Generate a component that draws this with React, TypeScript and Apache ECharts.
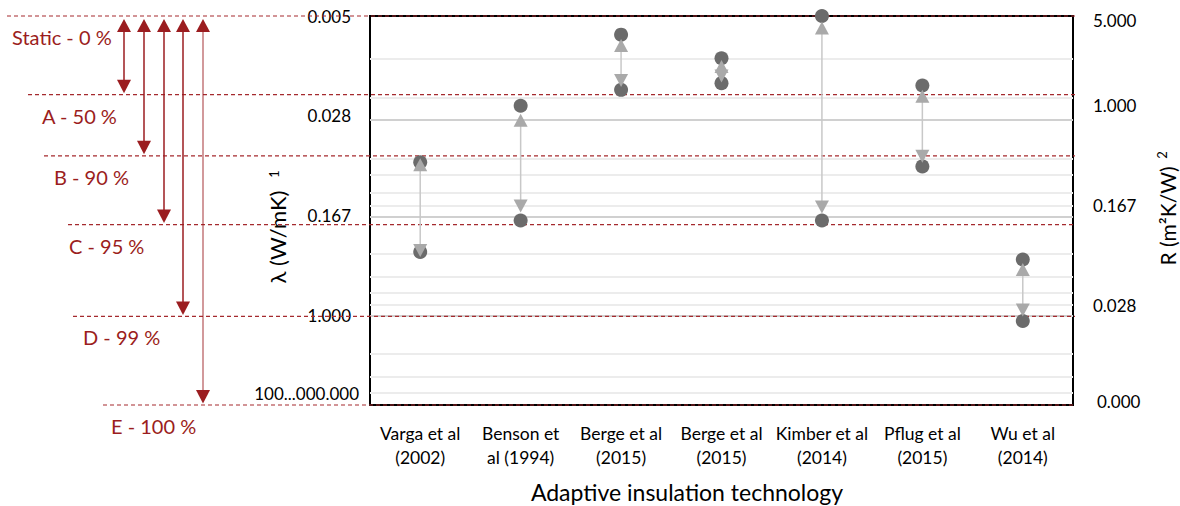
import React, { useEffect, useRef } from "react";
import * as echarts from "echarts";

// ---------- data ----------
const categories = [
  "Varga et al\n(2002)",
  "Benson et\nal (1994)",
  "Berge et al\n(2015)",
  "Berge et al\n(2015)",
  "Kimber et al\n(2014)",
  "Pflug et al\n(2015)",
  "Wu et al\n(2014)",
];

// λ (W/mK): the two measured states (dark circles)
const lambdaLow = [0.064, 0.0232, 0.00647, 0.00988, 0.00463, 0.01614, 0.3666];
const lambdaHigh = [0.32, 0.182, 0.01744, 0.01546, 0.182, 0.0689, 1.107];
// arrow heads (light grey triangles)
const arrowUp = [0.0668, 0.0301, 0.00785, 0.01148, 0.00574, 0.01958, 0.4386];
const arrowDown = [0.312, 0.1406, 0.01476, 0.01357, 0.1431, 0.0574, 0.909];

// axes
const LAMBDA_MIN = 0.00463;
const LAMBDA_MAX = 5;
const R_MIN = 0.00463;
const R_MAX = 5;
const tickValues = [0.00463, 0.0278, 0.1667, 1, 5];
const leftTickLabels = ["0.005", "0.028", "0.167", "1.000", "100...000.000"];
const rightTickLabels = ["0.000", "0.028", "0.167", "1.000", "5.000"];
const majorGridLambda = [1 / 36, 1 / 6, 1];
const minorGridLambda = [
  2 / 216, 3 / 216, 4 / 216, 5 / 216,
  2 / 36, 3 / 36, 4 / 36, 5 / 36,
  2 / 6, 3 / 6, 4 / 6, 5 / 6,
  2, 3, 4,
];

// reduction levels (left annotation)
const levelLabels = ["Static - 0 %", "A - 50 %", "B - 90 %", "C - 95 %", "D - 99 %", "E - 100 %"];
const levelLambda = [0.00463, 0.019, 0.057, 0.196, 1.02, 5];

const FONT = "Lato";
const RED = "#9B1D20";

export default function App() {
  const ref = useRef<HTMLDivElement>(null);
  useEffect(() => {
    const chart = echarts.init(ref.current!, undefined, { renderer: "svg" });
    const log6 = (v: number) => Math.log(v) / Math.log(6);
    const nearest = (v: number) => {
      const e = log6(v);
      let best = -1;
      let bd = 1e9;
      tickValues.forEach((t, i) => {
        const d = Math.abs(log6(t) - e);
        if (d < bd) {
          bd = d;
          best = i;
        }
      });
      return bd < 0.05 ? best : -1;
    };

    const option: any = {
      animation: false,
      grid: {
        left: 370,
        right: 107,
        top: 16,
        bottom: 101,
        show: true,
        borderColor: "#000",
        borderWidth: 2,
        backgroundColor: "transparent",
      },
      xAxis: {
        type: "category",
        data: categories,
        axisLine: { show: false },
        axisTick: { show: false },
        splitLine: { show: false },
        axisLabel: {
          interval: 0,
          color: "#000",
          fontFamily: FONT,
          fontSize: 17.5,
          lineHeight: 24,
          margin: 16,
        },
      },
      yAxis: [
        {
          type: "log",
          logBase: 6,
          inverse: true,
          min: LAMBDA_MIN,
          max: LAMBDA_MAX,
          position: "left",
          axisLine: { show: false },
          axisTick: { show: false },
          splitLine: { show: false },
          axisLabel: {
            margin: 11,
            color: "#000",
            fontFamily: FONT,
            fontSize: 17,
            formatter: (v: number) => {
              const i = nearest(v);
              if (i < 0) return "";
              return i === 4 ? `{lo|${leftTickLabels[i]}}` : `{n|${leftTickLabels[i]}}`;
            },
            rich: {
              n: { padding: [0, 8, 0, 0], fontFamily: FONT, fontSize: 17, color: "#000" },
              lo: { padding: [0, 0, 24, 0], fontFamily: FONT, fontSize: 17, color: "#000" },
            },
          },
        },
        {
          type: "log",
          logBase: 6,
          min: R_MIN,
          max: R_MAX,
          position: "right",
          axisLine: { show: false },
          axisTick: { show: false },
          splitLine: { show: false },
          axisLabel: {
            margin: 20,
            color: "#000",
            fontFamily: FONT,
            fontSize: 17,
            formatter: (v: number) => {
              const i = nearest(v);
              if (i < 0) return "";
              if (i === 0) return `{lo|${rightTickLabels[i]}}`;
              if (i === 4) return `{hi|${rightTickLabels[i]}}`;
              return rightTickLabels[i];
            },
            rich: {
              lo: { padding: [0, 0, 8, 4], fontFamily: FONT, fontSize: 17, color: "#000" },
              hi: { padding: [8, 0, 0, 0], fontFamily: FONT, fontSize: 17, color: "#000" },
            },
          },
        },
      ],
      series: [
        {
          type: "scatter",
          yAxisIndex: 0,
          data: [],
          silent: true,
          markLine: {
            silent: true,
            symbol: "none",
            z: 1,
            animation: false,
            label: { show: false },
            data: [
              ...minorGridLambda.map((v) => ({
                yAxis: v,
                lineStyle: { color: "#ececec", width: 2, type: "solid" },
              })),
              ...majorGridLambda.map((v) => ({
                yAxis: v,
                lineStyle: { color: "#d0d0d0", width: 2, type: "solid" },
              })),
            ],
          },
        },
        {
          type: "scatter",
          yAxisIndex: 0,
          z: 4,
          clip: false,
          symbol: "circle",
          symbolSize: 14,
          itemStyle: { color: "#6b6b6b", opacity: 1 },
          data: lambdaLow.map((v, i) => [i, v]),
        },
        {
          type: "scatter",
          yAxisIndex: 0,
          z: 4,
          clip: false,
          symbol: "circle",
          symbolSize: 14,
          itemStyle: { color: "#6b6b6b", opacity: 1 },
          data: lambdaHigh.map((v, i) => [i, v]),
        },
        {
          type: "custom",
          yAxisIndex: 0,
          z: 5,
          clip: false,
          encode: { x: 0, y: [1, 2] },
          data: arrowUp.map((v, i) => [i, v, arrowDown[i]]),
          renderItem: (_p: any, api: any) => {
            const a = api.coord([api.value(0), api.value(1)]);
            const b = api.coord([api.value(0), api.value(2)]);
            return {
              type: "line",
              shape: { x1: a[0], y1: a[1], x2: b[0], y2: b[1] },
              style: { stroke: "#c8c8c8", lineWidth: 1.5 },
            };
          },
        },
        {
          type: "scatter",
          yAxisIndex: 0,
          z: 6,
          clip: false,
          symbol: "triangle",
          symbolSize: [14, 13],
          itemStyle: { color: "#a9a9a9", opacity: 1 },
          data: arrowUp.map((v, i) => [i, v]),
        },
        {
          type: "scatter",
          yAxisIndex: 0,
          z: 6,
          clip: false,
          symbol: "triangle",
          symbolRotate: 180,
          symbolSize: [14, 13],
          itemStyle: { color: "#a9a9a9", opacity: 1 },
          data: arrowDown.map((v, i) => [i, v]),
        },
      ],
    };
    chart.setOption(option);

    // ---------- annotations from the axis scale ----------
    const yOf = (v: number) => chart.convertToPixel({ yAxisIndex: 0 } as any, v) as number;
    const levelY = levelLambda.map(yOf);
    const lineStartX = [7, 28, 44, 68, 73, 103];
    const labelX = [12, 42, 54, 69, 83, 111];
    const arrowX = [124, 144, 164, 183, 203];
    const lineEndX = 1075;
    const g: any[] = [];
    levelY.forEach((y, i) => {
      g.push({
        type: "line",
        z: 3,
        shape: { x1: lineStartX[i], y1: y, x2: lineEndX, y2: y },
        style: { stroke: "#A52A2E", lineWidth: 1.2, lineDash: [4, 3] },
      });
      g.push({
        type: "text",
        z: 3,
        x: labelX[i],
        y: y + 21,
        style: {
          text: levelLabels[i],
          fill: RED,
          font: `20px ${FONT}`,
          textAlign: "left",
          textVerticalAlign: "middle",
        },
      });
    });
    const yTop = levelY[0];
    arrowX.forEach((x, k) => {
      const yBot = levelY[k + 1];
      g.push({
        type: "line",
        z: 3,
        shape: { x1: x, y1: yTop + 12, x2: x, y2: yBot - 12 },
        style: { stroke: RED, lineWidth: 1.5, opacity: k === 4 ? 0.6 : 1 },
      });
      g.push({
        type: "polygon",
        z: 3,
        shape: { points: [[x, yTop + 3], [x - 7, yTop + 16], [x + 7, yTop + 16]] },
        style: { fill: RED },
      });
      g.push({
        type: "polygon",
        z: 3,
        shape: { points: [[x, yBot - 1.5], [x - 7, yBot - 15], [x + 7, yBot - 15]] },
        style: { fill: RED },
      });
    });
    // axis titles
    g.push({
      type: "text",
      x: 277,
      y: 237,
      rotation: Math.PI / 2,
      style: { text: "λ (W/mK)", fill: "#000", font: `22px ${FONT}`, textAlign: "center", textVerticalAlign: "middle" },
    });
    g.push({
      type: "text",
      x: 274,
      y: 174,
      rotation: Math.PI / 2,
      style: { text: "1", fill: "#000", font: `13px ${FONT}`, textAlign: "center", textVerticalAlign: "middle" },
    });
    g.push({
      type: "text",
      x: 1167,
      y: 216,
      rotation: Math.PI / 2,
      style: { text: "R (m²K/W)", fill: "#000", font: `21px ${FONT}`, textAlign: "center", textVerticalAlign: "middle" },
    });
    g.push({
      type: "text",
      x: 1162,
      y: 155,
      rotation: Math.PI / 2,
      style: { text: "2", fill: "#000", font: `13px ${FONT}`, textAlign: "center", textVerticalAlign: "middle" },
    });
    g.push({
      type: "text",
      x: 687,
      y: 492,
      style: {
        text: "Adaptive insulation technology",
        fill: "#000",
        font: `23px ${FONT}`,
        textAlign: "center",
        textVerticalAlign: "middle",
      },
    });
    chart.setOption({ graphic: g });

    return () => chart.dispose();
  }, []);
  return (
    <div
      ref={ref}
      style={{ position: "absolute", left: 0, top: 0, width: 1180, height: 506, background: "#fff" }}
    />
  );
}
